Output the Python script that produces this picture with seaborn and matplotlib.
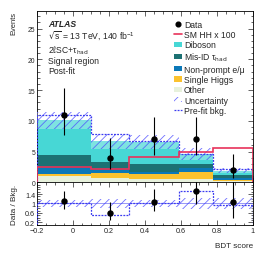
import numpy as np
import pandas as pd
import matplotlib
matplotlib.use("Agg")
import matplotlib.pyplot as plt
from matplotlib.patches import Patch
from matplotlib.lines import Line2D
from matplotlib.ticker import MultipleLocator
import seaborn as sns

# ---------------- data ----------------
bin_edges = [-0.2, 0.1, 0.31, 0.59, 0.78, 1.0]
processes = ["Diboson", "Mis-ID τ$_{\\mathrm{had}}$", "Non-prompt e/μ", "Single Higgs", "Other"]
diboson    = [5.67, 3.32, 3.63, 1.63, 0.70]
misid_tau  = [2.11, 1.29, 1.25, 0.70, 0.53]
nonprompt  = [0.97, 0.54, 0.37, 0.65, 0.25]
single_h   = [0.38, 0.86, 0.81, 1.08, 0.20]
other      = [0.97, 0.65, 0.54, 0.54, 0.20]
bkg_unc    = [1.35, 1.28, 1.10, 1.00, 0.42]
prefit_bkg = [11.0, 7.8, 6.8, 4.55, 2.1]
signal_x100 = [2.55, 2.15, 4.05, 4.9, 5.6]
data_obs   = [11, 4, 7, 7, 2]
data_lo    = [7.7, 2.1, 4.4, 4.4, 0.7]
data_hi    = [15.4, 7.2, 10.6, 10.6, 4.6]

colors = {
    processes[0]: "#47d7d5",
    processes[1]: "#1c7173",
    processes[2]: "#0b78b8",
    processes[3]: "#fbc22e",
    processes[4]: "#e7f1dc",
}
red = "#e8325a"
blue = "#3b3bf0"
hatch_col = (0.3, 0.3, 1.0, 0.8)

# ---------------- figure ----------------
sns.set_theme(style="ticks")
plt.rcParams["font.family"] = ["Liberation Sans", "DejaVu Sans"]
plt.rcParams["mathtext.default"] = "regular"
plt.rcParams["hatch.linewidth"] = 0.6
fs = 6.2        # annotations / legend
fs_tick = 5.2
fs_tick_main = 4.9

edges = np.array(bin_edges)
centers = 0.5 * (edges[:-1] + edges[1:])
comp = [diboson, misid_tau, nonprompt, single_h, other]

rows = []
for name, vals in zip(processes, comp):
    for c, v in zip(centers, vals):
        rows.append({"x": float(c), "w": float(v), "process": name})
df = pd.DataFrame(rows)

total = np.sum(np.array(comp), axis=0)
unc = np.array(bkg_unc)
dat = np.array(data_obs, dtype=float)

fig = plt.figure(figsize=(2.66, 2.55), dpi=100)
ax = fig.add_axes([0.140, 0.281, 0.810, 0.673])
ax2 = fig.add_axes([0.140, 0.114, 0.810, 0.167], sharex=ax)

sns.histplot(data=df, x="x", weights="w", hue="process", hue_order=processes,
             bins=list(bin_edges), multiple="stack", element="step", fill=True, alpha=1,
             linewidth=0, palette=colors, legend=False, ax=ax)

# uncertainty band
lo_b = np.append(total - unc, (total - unc)[-1])
hi_b = np.append(total + unc, (total + unc)[-1])
ax.fill_between(edges, lo_b, hi_b, step="post", facecolor=(1, 1, 1, 0.3),
                edgecolor=hatch_col, hatch="////", linewidth=0, zorder=3)
ax.stairs(prefit_bkg, edges, color=blue, linestyle=(0, (1.5, 1)), linewidth=0.9, zorder=4)
ax.stairs(signal_x100, edges, color=red, linewidth=1.2, zorder=5)
ax.errorbar(centers, dat, yerr=[dat - np.array(data_lo), np.array(data_hi) - dat],
            fmt="o", color="black", markersize=3.6, elinewidth=0.8, capsize=0, zorder=6)

ax.set_xlim(-0.2, 1.0)
ax.set_ylim(0, 27.9)
ax.yaxis.set_major_locator(MultipleLocator(5))
ax.yaxis.set_minor_locator(MultipleLocator(1))
ax.set_ylabel("Events", fontsize=5.4, loc="top", labelpad=7)
ax.set_xlabel("")
plt.setp(ax.get_xticklabels(), visible=False)

# texts
tx = 0.05
ax.text(tx, 0.925, "ATLAS", transform=ax.transAxes, fontsize=fs,
        fontweight="bold", fontstyle="italic", va="center")
ax.text(tx, 0.862, "$\\sqrt{s}$ = 13 TeV, 140 fb$^{-1}$", transform=ax.transAxes,
        fontsize=fs, va="center")
ax.text(tx, 0.775, "2ℓSC+τ$_{\\mathrm{had}}$", transform=ax.transAxes,
        fontsize=fs, va="center")
ax.text(tx, 0.712, "Signal region", transform=ax.transAxes, fontsize=fs, va="center")
ax.text(tx, 0.653, "Post-fit", transform=ax.transAxes, fontsize=fs, va="center")

# legend
handles = [
    Line2D([], [], marker="o", color="black", linestyle="none", markersize=3.4),
    Line2D([], [], color=red, linewidth=1.2),
] + [Patch(facecolor=colors[p], edgecolor="none") for p in processes] + [
    Patch(facecolor="white", edgecolor=hatch_col, hatch="////", linewidth=0),
    Line2D([], [], color=blue, linestyle=(0, (1.5, 1)), linewidth=0.9),
]
labels = ["Data", "SM HH x 100"] + processes + ["Uncertainty", "Pre-fit bkg."]
ax.legend(handles, labels, loc="upper left", bbox_to_anchor=(0.635, 0.948),
          frameon=False, fontsize=fs, handlelength=0.95, handleheight=0.6,
          handletextpad=0.2, labelspacing=0.16, borderaxespad=0, borderpad=0)

# ratio panel
rel = unc / total
ax2.fill_between(edges, np.append(1 - rel, 1 - rel[-1]), np.append(1 + rel, 1 + rel[-1]),
                 step="post", facecolor=(1, 1, 1, 0.3),
                 edgecolor=hatch_col, hatch="////", linewidth=0, zorder=2)
ax2.axhline(1.0, color=blue, linewidth=0.6, alpha=0.6, zorder=2)
ax2.stairs(dat / np.array(prefit_bkg), edges, color=blue, linestyle=(0, (1.5, 1)),
           linewidth=0.9, zorder=3)
ax2.errorbar(centers, dat / total,
             yerr=[(dat - np.array(data_lo)) / total, (np.array(data_hi) - dat) / total],
             fmt="o", color="black", markersize=3.6, elinewidth=0.8, capsize=0, zorder=5)
ax2.set_ylim(0.085, 1.9)
ax2.set_yticks([0.2, 0.6, 1.0, 1.4])
ax2.set_yticklabels(["0.2", "0.6", "1", "1.4"])
ax2.yaxis.set_minor_locator(MultipleLocator(0.1))
ax2.set_xticks([-0.2, 0, 0.2, 0.4, 0.6, 0.8, 1.0])
ax2.set_xticklabels(["−0.2", "0", "0.2", "0.4", "0.6", "0.8", "1"])
ax2.xaxis.set_minor_locator(MultipleLocator(0.05))
ax2.set_ylabel("Data / Bkg.", fontsize=fs - 0.3, labelpad=5)
ax2.set_xlabel("BDT score", fontsize=fs - 0.3, loc="right", labelpad=6)

for a, lsz in ((ax, fs_tick_main), (ax2, fs_tick)):
    a.tick_params(which="both", direction="in", top=True, right=True, labelsize=lsz,
                  width=0.5, pad=1.5)
    a.tick_params(which="major", length=3.5)
    a.tick_params(which="minor", length=1.8)
    for s in a.spines.values():
        s.set_linewidth(0.6)
        s.set_color("black")

fig.savefig("out.png", dpi=100)
